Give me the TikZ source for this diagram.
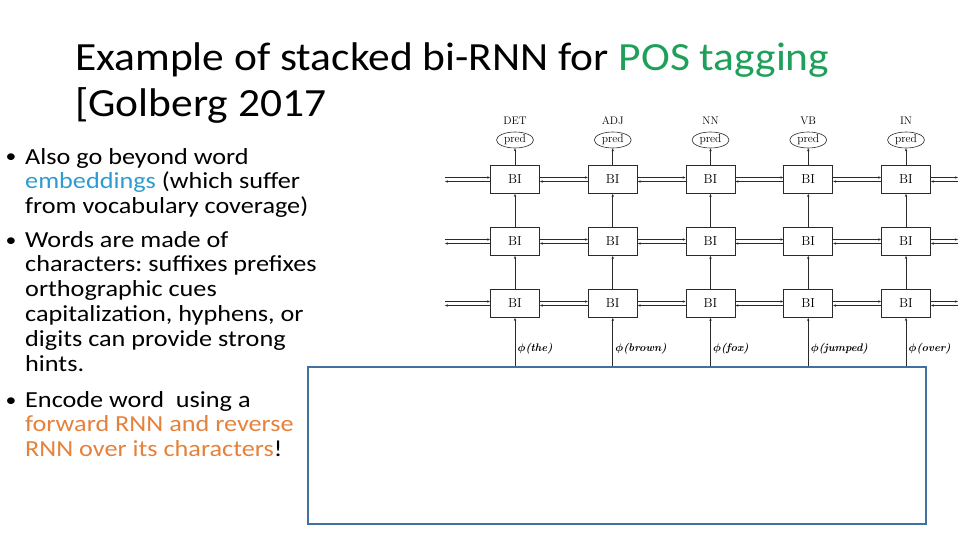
\documentclass[tikz,border=0pt]{standalone}
\usepackage{fontspec}
\usepackage{amsmath}
\newfontfamily\titlefont[FakeStretch=1.087]{Carlito}
\newfontfamily\slidefont[FakeStretch=1.14]{Carlito}
\usepackage{tikz}
\definecolor{posgreen}{HTML}{1FA05A}
\definecolor{embblue}{HTML}{2E9BD0}
\definecolor{encorange}{HTML}{E5813A}
\definecolor{frameblue}{HTML}{41719C}
\definecolor{netgray}{HTML}{2A2A2A}
\usetikzlibrary{arrows.meta, positioning, shapes.geometric}
\frenchspacing
\tikzset{
	titletext/.style={anchor=base west, inner sep=0pt, align=left,
		font=\titlefont\fontsize{40}{46}\selectfont},
	bullettext/.style={anchor=base west, inner sep=0pt, align=left,
		font=\slidefont\fontsize{23}{24.8}\selectfont},
	bulletdot/.style={anchor=base, inner sep=0pt, font=\slidefont\fontsize{19}{24.8}\selectfont},
	bibox/.style={draw=netgray, line width=0.8pt, minimum width=49pt, minimum height=28pt,
		inner sep=0pt, font=\fontsize{13}{13}\selectfont},
	predoval/.style={ellipse, draw=netgray, line width=0.6pt, minimum width=37pt,
		minimum height=16pt, inner sep=0pt, font=\fontsize{11.5}{11.5}\selectfont},
	taglabel/.style={inner sep=0pt, font=\fontsize{11}{11}\selectfont},
	inlabel/.style={anchor=west, inner sep=0pt, font=\fontsize{11}{11}\selectfont\bfseries\itshape},
	narr/.style={-{Stealth[length=3pt, width=2.4pt]}, line width=0.75pt, draw=netgray},
	coverbox/.style={draw=frameblue, line width=2.5pt, fill=white, minimum width=618pt,
		minimum height=157pt, inner sep=0pt}
}

\begin{document}
\begin{tikzpicture}[x=1pt, y=-1pt]
	\useasboundingbox (0,0) rectangle (960,540);

	% title and bullets (anchored on the last line)
	\node[titletext] (title) at (75,117) {Example of stacked bi-RNN for \textcolor{posgreen}{POS tagging}\\ {[}Golberg 2017};

	\node[bulletdot] (d1) at (11,163) {•};
	\node[bullettext] (b1) at (25,213.6) {Also go beyond word\\ \textcolor{embblue}{embeddings} (which suffer\\ from vocabulary coverage)};
	\node[bulletdot] (d2) at (11,246) {•};
	\node[bullettext] (b2) at (25,371) {Words are made of\\ characters: suffixes prefixes\\ orthographic cues\\ capitalization, hyphens, or\\ digits can provide strong\\ hints.};
	\node[bulletdot] (d3) at (11,406) {•};
	\node[bullettext] (b3) at (25,456.6) {Encode word\ \ using a\\ \textcolor{encorange}{forward RNN and reverse}\\ \textcolor{encorange}{RNN over its characters}!};

	% empty box over the network inputs
	\node[coverbox] (cover) at (617,445.5) {};

	% stacked bi-RNN columns
	\foreach \tag/\word [count=\c] in {DET/the, ADJ/brown, NN/fox, VB/jumped, IN/over} {
		\pgfmathsetmacro\xc{515+97.75*(\c-1)}
		\node[taglabel] (tg-\c) at (\xc,121) {\tag};
		\node[predoval] (pr-\c) at (\xc,140) {pred};
		\foreach \r/\yr in {1/179.5, 2/241.5, 3/303.5}
			\node[bibox] (bi-\r-\c) at (\xc,\yr) {BI};
		\node[inlabel] (lb-\c) at (\xc+2.5,349) {$\boldsymbol{\phi}$(\word)};
	}

	% vertical arrows
	\foreach \c in {1,...,5} {
		\draw[narr] (bi-1-\c) -- (pr-\c);
		\draw[narr] (bi-2-\c) -- (bi-1-\c);
		\draw[narr] (bi-3-\c) -- (bi-2-\c);
		\draw[narr] (cover.north -| bi-3-\c) -- (bi-3-\c);
	}

	% forward and backward arrows
	\foreach \r in {1,2,3} {
		\path (bi-\r-1.west) ++(-45,0) coordinate (lft-\r);
		\path (bi-\r-5.east) ++(27,0) coordinate (rgt-\r);
		\draw[narr] ([yshift=2pt]lft-\r) -- ([yshift=2pt]bi-\r-1.west);
		\draw[narr] ([yshift=-2pt]bi-\r-1.west) -- ([yshift=-2pt]lft-\r);
		\foreach \c [evaluate=\c as \n using int(\c+1)] in {1,...,4} {
			\draw[narr] ([yshift=2pt]bi-\r-\c.east) -- ([yshift=2pt]bi-\r-\n.west);
			\draw[narr] ([yshift=-2pt]bi-\r-\n.west) -- ([yshift=-2pt]bi-\r-\c.east);
		}
		\draw[narr] ([yshift=2pt]bi-\r-5.east) -- ([yshift=2pt]rgt-\r);
		\draw[narr] ([yshift=-2pt]rgt-\r) -- ([yshift=-2pt]bi-\r-5.east);
	}
\end{tikzpicture}
\end{document}
